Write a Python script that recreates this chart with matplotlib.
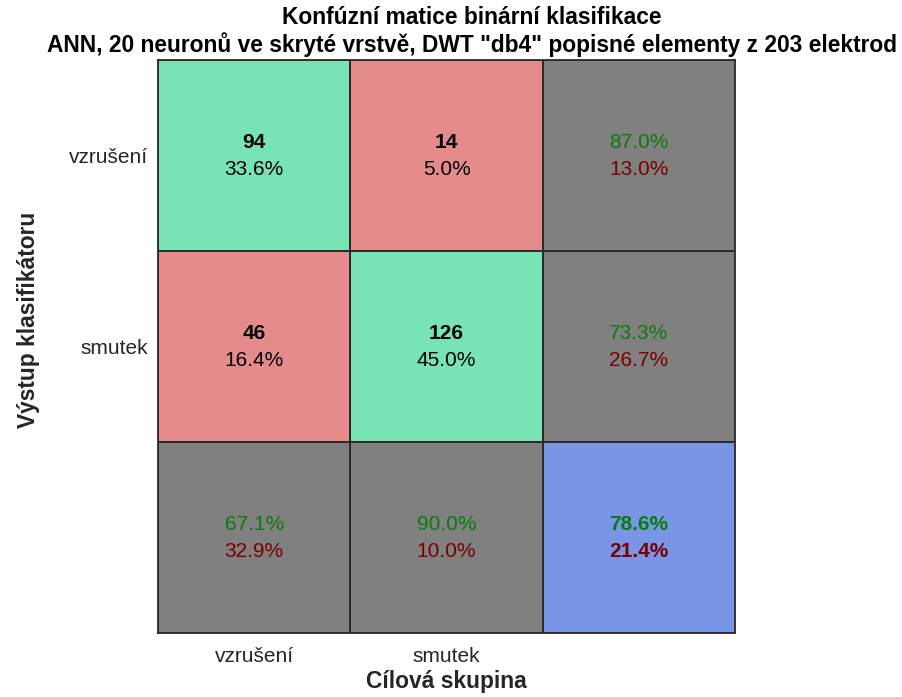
import numpy as np
import matplotlib
matplotlib.use("Agg")
import matplotlib.pyplot as plt
from matplotlib.colors import ListedColormap

plt.rcParams['font.family'] = ['Liberation Sans', 'DejaVu Sans']

# Data
classes = ["vzrušení", "smutek"]
counts = np.array([[94, 14],
                   [46, 126]])
title_line1 = "Konfúzní matice binární klasifikace"
title_line2 = 'ANN, 20 neuronů ve skryté vrstvě, DWT "db4" popisné elementy z 203 elektrod'

# Colours: 0 = correct, 1 = wrong, 2 = summary, 3 = overall
cmap = ListedColormap(["#78e4b5", "#e58b8b", "#808080", "#7896e5"])
cell_kind = np.array([[0, 1, 2],
                      [1, 0, 2],
                      [2, 2, 3]])

total = counts.sum()
row_ok = np.diag(counts) / counts.sum(axis=1) * 100
col_ok = np.diag(counts) / counts.sum(axis=0) * 100
overall = np.trace(counts) / total * 100

fig = plt.figure(figsize=(9.02, 6.97), dpi=100)
ax = fig.add_axes([0.1752, 0.0918, 0.6397, 0.8221])

ax.pcolormesh(np.arange(4), np.arange(4), cell_kind, cmap=cmap, vmin=-0.5, vmax=3.5,
              edgecolors="#2b2b2b", linewidth=1.3)
ax.set_xlim(0, 3)
ax.set_ylim(3, 0)

GOOD = "#0a7a0a"
BAD = "#7a0000"
FS = 15
up, down = -0.068, 0.074

# confusion cells
for i in range(2):
    for j in range(2):
        ax.text(j + 0.5, i + 0.5 + up, str(counts[i, j]), ha="center", va="center",
                fontsize=FS, fontweight="bold", color="black")
        ax.text(j + 0.5, i + 0.5 + down, f"{counts[i, j] / total * 100:.1f}%",
                ha="center", va="center", fontsize=FS, color="black")

# right column (per output class)
for i in range(2):
    ax.text(2.5, i + 0.5 + up, f"{row_ok[i]:.1f}%", ha="center", va="center",
            fontsize=FS, color=GOOD)
    ax.text(2.5, i + 0.5 + down, f"{100 - row_ok[i]:.1f}%", ha="center", va="center",
            fontsize=FS, color=BAD)

# bottom row (per target class)
for j in range(2):
    ax.text(j + 0.5, 2.5 + up, f"{col_ok[j]:.1f}%", ha="center", va="center",
            fontsize=FS, color=GOOD)
    ax.text(j + 0.5, 2.5 + down, f"{100 - col_ok[j]:.1f}%", ha="center", va="center",
            fontsize=FS, color=BAD)

# overall
ax.text(2.5, 2.5 + up, f"{overall:.1f}%", ha="center", va="center",
        fontsize=FS, fontweight="bold", color=GOOD)
ax.text(2.5, 2.5 + down, f"{100 - overall:.1f}%", ha="center", va="center",
        fontsize=FS, fontweight="bold", color=BAD)

ax.set_xticks([0.5, 1.5])
ax.set_xticklabels(classes)
ax.set_yticks([0.5, 1.5])
ax.set_yticklabels(classes)
ax.tick_params(length=0, labelsize=15, colors="#262626")
ax.tick_params(axis="x", pad=10)
ax.tick_params(axis="y", pad=7)
for s in ax.spines.values():
    s.set_color("#2b2b2b")
    s.set_linewidth(1.3)

ax.set_xlabel("Cílová skupina", fontsize=16.4, fontweight="bold", color="#262626")
ax.xaxis.set_label_coords(0.5, -0.064)
ax.xaxis.label.set_va("top")
ax.set_ylabel("Výstup klasifikátoru", fontsize=16.4, fontweight="bold", color="#262626")
ax.yaxis.set_label_coords(-0.205, 0.546)

fig.text(472 / 902, 1 - 18 / 697, title_line1, ha="center", va="center",
         fontsize=16.4, fontweight="bold")
fig.text(472 / 902, 1 - 45 / 697, title_line2, ha="center", va="center",
         fontsize=16.4, fontweight="bold")

fig.savefig("out.png", dpi=100, facecolor="white")
